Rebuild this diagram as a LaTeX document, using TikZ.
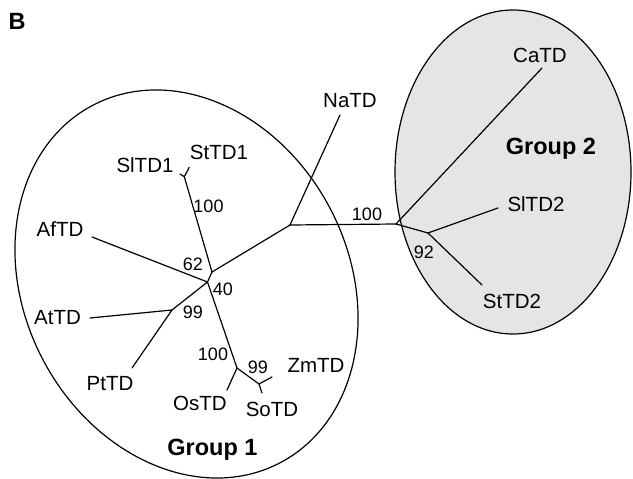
\documentclass[tikz,border=0pt]{standalone}
\usepackage{fontspec}
\setmainfont{Liberation Sans}
\begin{document}
\begin{tikzpicture}[x=1pt,y=-1pt,
  br/.style={line width=1.2pt, line cap=round, line join=round},
  outline/.style={line width=1.2pt},
  lab/.style={font=\fontsize{20.5}{22}\selectfont, inner sep=0pt, anchor=base},
  num/.style={font=\fontsize{18}{20}\selectfont, inner sep=0pt, anchor=base},
  grp/.style={font=\bfseries\fontsize{23.5}{26}\selectfont, inner sep=0pt, anchor=base}]
\useasboundingbox (0,0) rectangle (633,479);

% group outlines
\draw[outline, fill=black!10] (513,172) ellipse [x radius=118pt, y radius=162pt];
\draw[outline, rotate around={27.6:(186.5,284)}] (186.5,284) ellipse [x radius=162.3pt, y radius=201.8pt];

% internal nodes
\coordinate (A) at (290,225);
\coordinate (B) at (396,224);
\coordinate (C) at (428,233);
\coordinate (E) at (212,272);
\coordinate (F) at (207.5,282);
\coordinate (G) at (184.3,176.7);
\coordinate (H) at (172,310);
\coordinate (I) at (237,368);
\coordinate (J) at (259,384);
% leaf tips
\coordinate (tNa) at (340,115);
\coordinate (tCa) at (542,68);
\coordinate (tSlb) at (498,208);
\coordinate (tStb) at (482,285);
\coordinate (tSla) at (180,174);
\coordinate (tSta) at (189.3,167.3);
\coordinate (tAf) at (92,237);
\coordinate (tAt) at (90,318);
\coordinate (tPt) at (132,368);
\coordinate (tOs) at (227,390);
\coordinate (tZm) at (272,377);
\coordinate (tSo) at (262,393);

% branches
\draw[br] (A) -- (tNa);
\draw[br] (A) -- (B);
\draw[br] (B) -- (tCa);
\draw[br] (B) -- (C);
\draw[br] (C) -- (tSlb);
\draw[br] (C) -- (tStb);
\draw[br] (A) -- (E);
\draw[br] (E) -- (G);
\draw[br] (G) -- (tSla);
\draw[br] (G) -- (tSta);
\draw[br] (E) -- (F);
\draw[br] (F) -- (tAf);
\draw[br] (F) -- (H);
\draw[br] (H) -- (tAt);
\draw[br] (H) -- (tPt);
\draw[br] (F) -- (I);
\draw[br] (I) -- (tOs);
\draw[br] (I) -- (J);
\draw[br] (J) -- (tZm);
\draw[br] (J) -- (tSo);

% leaf labels
\node[lab] (lNa) at (350,107) {NaTD};
\node[lab] (lCa) at (540,63) {CaTD};
\node[lab] (lSlb) at (536,211) {SlTD2};
\node[lab] (lStb) at (512,308) {StTD2};
\node[lab] (lSla) at (145,172) {SlTD1};
\node[lab] (lSta) at (219,159) {StTD1};
\node[lab] (lAf) at (60,236) {AfTD};
\node[lab] (lAt) at (57.5,324) {AtTD};
\node[lab] (lPt) at (110,390) {PtTD};
\node[lab] (lOs) at (200,410) {OsTD};
\node[lab] (lSo) at (272,416) {SoTD};
\node[lab] (lZm) at (316,372) {ZmTD};

% bootstrap values
\node[num] (n1) at (208.5,212) {100};
\node[num] (n2) at (193,270) {62};
\node[num] (n3) at (223,295) {40};
\node[num] (n4) at (193,318) {99};
\node[num] (n5) at (213,360) {100};
\node[num] (n6) at (258,373) {99};
\node[num] (n7) at (367,220) {100};
\node[num] (n8) at (424,258) {92};

% group labels
\node[grp] (g1) at (212.5,455) {Group 1};
\node[grp] (g2) at (551,154) {Group 2};
\node[grp] (panel) at (17,30) {B};
\end{tikzpicture}
\end{document}
